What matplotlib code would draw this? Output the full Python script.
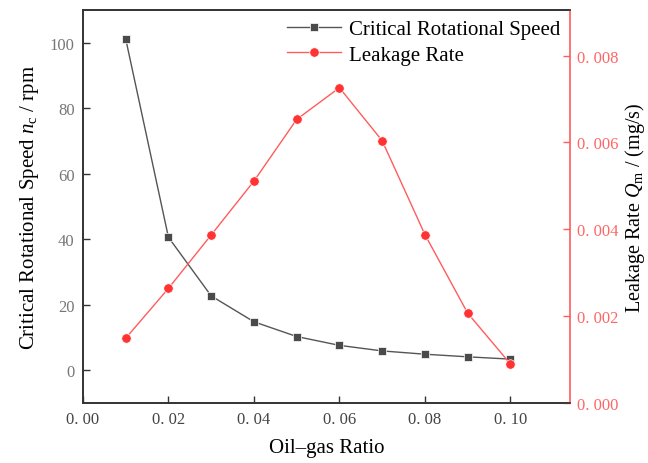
import matplotlib
matplotlib.use("Agg")
import matplotlib.pyplot as plt
from matplotlib.ticker import FuncFormatter

oil_gas_ratio = [0.01, 0.02, 0.03, 0.04, 0.05, 0.06, 0.07, 0.08, 0.09, 0.10]
critical_speed = [101.2, 40.6, 22.7, 14.8, 10.3, 7.6, 5.9, 4.9, 4.1, 3.4]
leakage_rate = [0.00149, 0.00264, 0.00387, 0.00511, 0.00653, 0.00726, 0.00604, 0.00388, 0.00207, 0.00090]
x_ticks = [0.00, 0.02, 0.04, 0.06, 0.08, 0.10]
left_ticks = [0, 20, 40, 60, 80, 100]
right_ticks = [0.000, 0.002, 0.004, 0.006, 0.008]

plt.rcParams['font.family'] = ['Liberation Serif', 'DejaVu Serif']
plt.rcParams['mathtext.fontset'] = 'custom'
plt.rcParams['mathtext.rm'] = 'Liberation Serif'
plt.rcParams['mathtext.it'] = 'Liberation Serif:italic'

fig = plt.figure(figsize=(6.48, 4.64), dpi=100)
ax = fig.add_axes([0.128, 0.1293, 0.752, 0.847])
ax2 = ax.twinx()

red = '#ff3333'
redline = '#ff5c5c'
dark = '#4a4a4a'

l1, = ax.plot(oil_gas_ratio, critical_speed, color='#555555', lw=1.0,
              marker='s', ms=6, mfc=dark, mec='white', mew=0.5,
              label='Critical Rotational Speed')
l2, = ax2.plot(oil_gas_ratio, leakage_rate, color=redline, lw=1.0,
               marker='o', ms=6.8, mfc=red, mec='white', mew=0.5,
               label='Leakage Rate')

ax.set_xlim(0, 0.114)
ax.set_ylim(-10, 110)
ax2.set_ylim(0, 0.00905)

ax.set_xticks(x_ticks)
ax.set_yticks(left_ticks)
ax2.set_yticks(right_ticks)

ax.xaxis.set_major_formatter(FuncFormatter(lambda v, p: f"{v:.2f}".replace('.', '. ')))
ax2.yaxis.set_major_formatter(FuncFormatter(lambda v, p: f"{v:.3f}".replace('.', '. ')))

ax.tick_params(axis='both', direction='in', length=5, width=1.0, labelsize=12,
               color='#333333', pad=6)
ax.tick_params(axis='x', labelcolor='#444444')
ax.tick_params(axis='y', labelcolor='#777777')
ax2.tick_params(axis='y', direction='in', length=5, width=1.0, labelsize=12,
                labelcolor='#ff6666', color='#ff5c5c', pad=5)

for s in ['left', 'bottom', 'top']:
    ax.spines[s].set_color('#333333')
    ax.spines[s].set_linewidth(1.2)
    ax2.spines[s].set_color('#333333')
    ax2.spines[s].set_linewidth(1.2)
ax2.spines['right'].set_color('#ff5c5c')
ax2.spines['right'].set_linewidth(1.2)
ax.spines['right'].set_visible(False)

ax.set_xlabel('Oil–gas Ratio', fontsize=15, labelpad=8)
ax.set_ylabel(r'Critical Rotational Speed $n_{\mathrm{c}}$ / rpm', fontsize=15, labelpad=6)
ax2.set_ylabel(r'Leakage Rate $Q_{\mathrm{m}}$ / (mg/s)', fontsize=14.5, labelpad=3)

ax.legend(handles=[l1, l2], loc='upper right', frameon=False, fontsize=15,
          handlelength=2.6, borderaxespad=0.05, labelspacing=0.3, handletextpad=0.4)

fig.savefig('out.png', dpi=100)
